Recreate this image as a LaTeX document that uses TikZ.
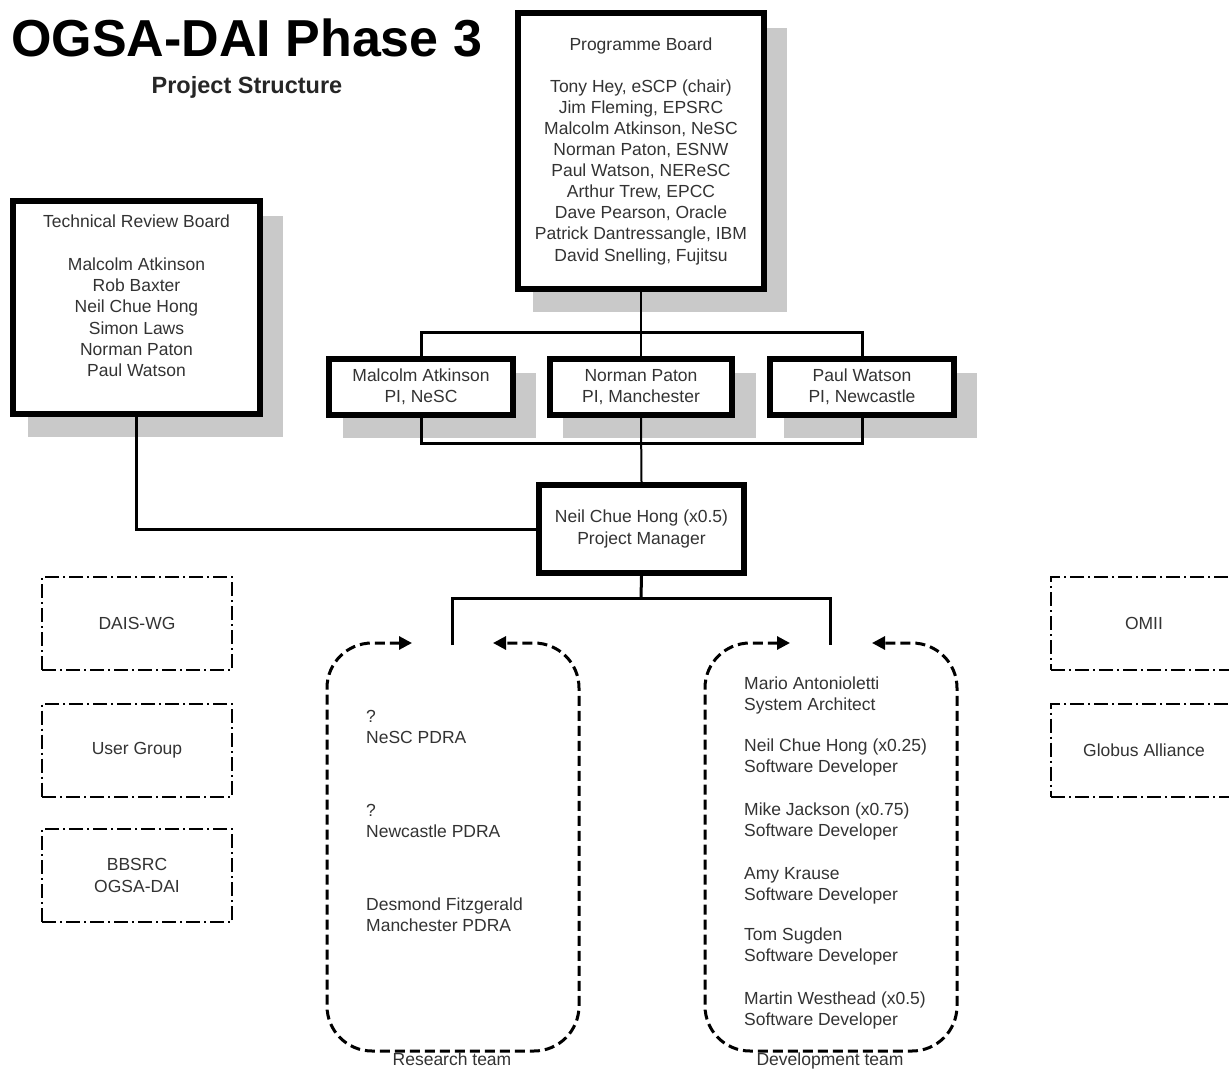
\documentclass[tikz,border=0pt]{standalone}
\usepackage{fontspec}
\setmainfont{Liberation Sans}
\usetikzlibrary{arrows.meta}
\newcommand{\bodyfont}{\fontsize{17.5}{21.3}\selectfont}
\begin{document}
\begin{tikzpicture}[x=1pt,y=-1pt,
  txt/.style={font=\bodyfont, text=black!80, align=center, inner sep=0pt},
  ltxt/.style={font=\bodyfont, text=black!80, align=left, inner sep=0pt, anchor=west},
  thickbox/.style={draw, line width=6pt, fill=white, inner sep=0pt, font=\bodyfont, text=black!80, align=center},
  shadowfill/.style={fill=black!21, draw=none},
  ddbox/.style={draw, line width=2pt, dash pattern=on 14pt off 4pt on 2pt off 4pt, inner sep=0pt, font=\bodyfont, text=black!80, align=center, minimum height=93pt},
  teamline/.style={draw, line width=3pt, dash pattern=on 10pt off 5pt, rounded corners=45pt, {Triangle[length=13pt,width=13pt]}-{Triangle[length=13pt,width=13pt]}},
  bus/.style={line width=3pt},
  stem/.style={line width=2pt}
]
\useasboundingbox (0,0) rectangle (1229,1070);
\clip (0,0) rectangle (1229,1070);
\fill[white] (0,0) rectangle (1229,1070);

% title
\node[anchor=base west, inner sep=0pt, font=\fontsize{52}{60}\selectfont\bfseries] (title) at (11,57) {OGSA-DAI Phase 3};
\node[inner sep=0pt, font=\fontsize{23.5}{28}\selectfont\bfseries, text=black!85] (subtitle) at (247,87) {Project Structure};

% shadows
\fill[shadowfill] (533,28) rectangle (787,312);
\fill[shadowfill] (28,216) rectangle (283,437);
\fill[shadowfill] (343,373) rectangle (536,438);
\fill[shadowfill] (563,373) rectangle (756,438);
\fill[shadowfill] (784,373) rectangle (977,438);

% programme board
\node[thickbox, minimum width=246pt, minimum height=276pt] (pb) at (641,151) {};
\node[txt, font=\fontsize{17.5}{21.1}\selectfont] (pbtext) at (641,151) {Programme Board\\[21.1pt]Tony Hey, eSCP (chair)\\Jim Fleming, EPSRC\\Malcolm Atkinson, NeSC\\Norman Paton, ESNW\\Paul Watson, NEReSC\\Arthur Trew, EPCC\\Dave Pearson, Oracle\\Patrick Dantressangle, IBM\\David Snelling, Fujitsu};

% technical review board
\node[thickbox, minimum width=247pt, minimum height=213pt] (trb) at (136.5,307.5) {};
\node[txt] (trbtext) at (136.5,296) {Technical Review Board\\[21.4pt]Malcolm Atkinson\\Rob Baxter\\Neil Chue Hong\\Simon Laws\\Norman Paton\\Paul Watson};

% PIs
\node[thickbox, minimum width=184pt, minimum height=56pt] (pi1) at (421,387) {Malcolm Atkinson\\PI, NeSC};
\node[thickbox, minimum width=182pt, minimum height=56pt] (pi2) at (641,387) {Norman Paton\\PI, Manchester};
\node[thickbox, minimum width=184pt, minimum height=56pt] (pi3) at (862,387) {Paul Watson\\PI, Newcastle};

% project manager
\node[thickbox, minimum width=205pt, minimum height=88pt] (pm) at (641.5,529) {Neil Chue Hong (x0.5)\\Project Manager};

% bus coordinates
\coordinate (topbus) at (641,332);
\coordinate (lowbus) at (641,443);
\coordinate (pmbus) at (641,598);
\coordinate (rtop) at (452,645);
\coordinate (dtop) at (830,645);

% connectors
\draw[stem] (pb.south) -- (topbus);
\draw[bus] (pi1.north) |- (topbus) -| (pi3.north);
\draw[stem] (topbus) -- (pi2.north);
\draw[bus] (pi1.south) |- (lowbus) -| (pi3.south);
\draw[stem] (pi2.south) -- (pm.north);
\draw[bus] (trb.south) |- (pm.west);
\draw[bus] (pm.south) -- (pmbus);
\draw[bus] (rtop) |- (pmbus) -| (dtop);

% team boxes
\draw[teamline] (412,643) -| (327,1051) -| (579,643) -- (493,643);
\draw[teamline] (790,643) -| (705,1051) -| (957,643) -- (872,643);
\node[txt, anchor=base] (rlabel) at (452,1065) {Research team};
\node[txt, anchor=base] (dlabel) at (830,1065) {Development team};

% research team members
\node[ltxt] (r1) at (366,727) {?\\NeSC PDRA};
\node[ltxt] (r2) at (366,821) {?\\Newcastle PDRA};
\node[ltxt] (r3) at (366,915) {Desmond Fitzgerald\\Manchester PDRA};

% development team members
\node[ltxt] (d1) at (744,695.5) {Mario Antonioletti\\System Architect};
\node[ltxt] (d2) at (744,757.5) {Neil Chue Hong (x0.25)\\Software Developer};
\node[ltxt] (d3) at (744,821.5) {Mike Jackson (x0.75)\\Software Developer};
\node[ltxt] (d4) at (744,885.5) {Amy Krause\\Software Developer};
\node[ltxt] (d5) at (744,946.5) {Tom Sugden\\Software Developer};
\node[ltxt] (d6) at (744,1010.5) {Martin Westhead (x0.5)\\Software Developer};

% external groups
\node[ddbox, minimum width=190pt] (dais) at (137,623.5) {DAIS-WG};
\node[ddbox, minimum width=190pt] (ug) at (137,750) {User Group};
\node[ddbox, minimum width=190pt] (bbsrc) at (137,875.5) {BBSRC\\OGSA-DAI};
\node[ddbox, minimum width=186pt] (omii) at (1144,623.5) {OMII};
\node[ddbox, minimum width=186pt] (globus) at (1144,750) {Globus Alliance};
\end{tikzpicture}
\end{document}
